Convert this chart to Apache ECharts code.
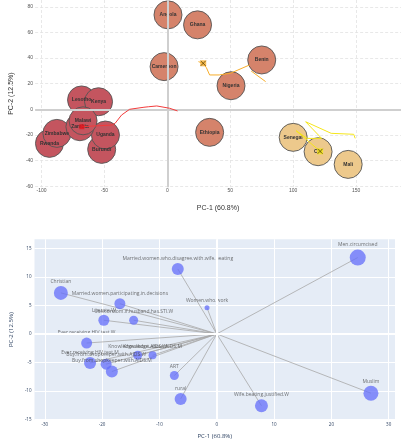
<!DOCTYPE html>
<html><head><meta charset="utf-8">
<script src="https://cdn.jsdelivr.net/npm/echarts@6/dist/echarts.min.js"></script>
<style>html,body{margin:0;padding:0;background:#fff}#c{width:401px;height:440px}</style>
</head><body><div id="c"></div>
<script>
// ---- top panel: country scores ----
const countries = ['Angola','Ghana','Cameroon','Benin','Nigeria','Ethiopia','Lesotho','Kenya','Rwanda','Zimbabwe','Burundi','Uganda','Zambia','Malawi','Senegal','CIV','Mali'];
const countryPC1 = [0.5, 24, -2.6, 75, 50.6, 33.6, -68.2, -54.7, -93.7, -87.8, -52.2, -49.2, -69.5, -67, 100, 119.8, 143.7];
const countryPC2 = [73.7, 65.9, 33.3, 38.5, 18.4, -18, 7.3, 5.9, -26.6, -18.8, -31.3, -20.1, -13.6, -9, -21.9, -33.1, -43];
const countryGroup = [1,1,1,1,1,1,0,0,0,0,0,0,0,0,2,2,2];

const redPC1 = [-68, -58, -44, -41.5, -36.4, -30, -18.6, -14.8, -13.5, -8.4, 1.8, 8.1];
const redPC2 = [-13.6, -13, -12.3, -10.9, -4.5, 0, 1.6, 2, 3.4, 2.6, 0.8, -1.3];
const orangePC1 = [24.7, 28.5, 31, 33.6, 41.2, 50.1, 65.3];
const orangePC2 = [37.2, 35.9, 32.5, 26.8, 26.8, 28.1, 34.6];
const orangeTailPC1 = [66.6, 78.1];
const orangeTailPC2 = [29.9, 21.6];
const yellowPC1 = [121.4, 102.3, 111.1, 122.6, 109.9, 130.2, 148.1, 149.3];
const yellowPC2 = [-32.8, -16.7, -22.7, -22.7, -9.7, -18.75, -19.5, -22.7];

// ---- bottom panel: variable loadings ----
const varNames = ['Men.circumcised','Married.women.who.disagree.with.wife.beating','Christian','Married.women.participating.in.decisions','Women.who.work','Literate.W','Use.condom.if.husband.has.STI.W','Ever.receiving.HIV.test.W','Knowledge.about.AIDS.W','Knowledge.about.AIDS.M','Ever.receiving.HIV.test.M','Buy.from.shopkeeper.with.AIDS.W','Buy.from.shopkeeper.with.AIDS.M','ART','rural','Wife.beating.justified.W','Muslim'];
const varPC1 = [24.6, -6.8, -27.2, -16.9, -1.7, -19.7, -14.5, -22.7, -13.8, -11.2, -22.1, -19.3, -18.3, -7.4, -6.3, 7.8, 26.9];
const varPC2 = [13.4, 11.4, 7.2, 5.3, 4.6, 2.4, 2.4, -1.6, -3.75, -3.75, -5.1, -5.3, -6.6, -7.3, -11.4, -12.6, -10.4];
const varMagnitude = [16, 12, 14, 11, 5, 11, 9, 11, 9, 8, 12, 11, 12, 9, 12, 13, 15];

const groupColors = ['#c4555f', '#d5836b', '#edc98c'];
const zip = (a, b) => a.map((v, i) => [v, b[i]]);

const chart = echarts.init(document.getElementById('c'), null, {renderer: 'canvas'});

const zeroLine = (color, w, xi, yi, z) => ({
  type: 'line', xAxisIndex: xi, yAxisIndex: yi, data: [], z: z, silent: true,
  markLine: {silent: true, symbol: ['none', 'none'], label: {show: false},
    lineStyle: {color: color, width: w, type: 'solid'},
    emphasis: {disabled: true},
    data: [{xAxis: 0}, {yAxis: 0}]}
});

const xMark = {path: 'path://M0,0L10,10M10,0L0,10'};

chart.setOption({
  animation: false,
  textStyle: {fontFamily: 'Liberation Sans, Arial, sans-serif'},
  grid: [
    {left: 20, top: 0, width: 381, height: 187.2},
    {left: 22.7, top: 239.3, width: 372.3, height: 183, show: true, backgroundColor: '#e5ecf6', borderWidth: 0}
  ],
  xAxis: [
    {type: 'value', gridIndex: 0, min: -105.1, max: 185.7, minInterval: 50, maxInterval: 50,
     axisLine: {show: false}, axisTick: {show: false},
     axisLabel: {fontSize: 5, color: '#555', margin: 1, showMinLabel: false, showMaxLabel: false},
     splitLine: {show: true, showMinLine: false, showMaxLine: false, lineStyle: {color: '#e2e2e2', type: [3, 2], width: 0.8}},
     name: 'PC-1 (60.8%)', nameLocation: 'middle', nameGap: 17, nameTextStyle: {fontSize: 7, color: '#333'}},
    {type: 'value', gridIndex: 1, min: -31.8, max: 31.1, minInterval: 10, maxInterval: 10,
     axisLine: {show: false}, axisTick: {show: false},
     axisLabel: {fontSize: 4.5, color: '#2a3f5f', margin: 2, showMinLabel: false, showMaxLabel: false, fontFamily: 'Open Sans'},
     splitLine: {show: true, showMinLine: false, showMaxLine: false, lineStyle: {color: '#ffffff', width: 1}},
     name: 'PC-1 (60.8%)', nameLocation: 'middle', nameGap: 13, nameTextStyle: {fontSize: 6, color: '#2a3f5f', fontFamily: 'Open Sans'}}
  ],
  yAxis: [
    {type: 'value', gridIndex: 0, min: -60.8, max: 85.3, minInterval: 20, maxInterval: 20,
     axisLine: {show: false}, axisTick: {show: false},
     axisLabel: {fontSize: 5, color: '#555', margin: 2, showMinLabel: false, showMaxLabel: false},
     splitLine: {show: true, showMinLine: false, showMaxLine: false, lineStyle: {color: '#e2e2e2', type: [3, 2], width: 0.8}},
     name: 'PC-2 (12.5%)', nameLocation: 'middle', nameGap: 12, nameRotate: 90, nameTextStyle: {fontSize: 7, color: '#333'}},
    {type: 'value', gridIndex: 1, min: -15.1, max: 16.6, minInterval: 5, maxInterval: 5,
     axisLine: {show: false}, axisTick: {show: false},
     axisLabel: {fontSize: 4.5, color: '#2a3f5f', margin: 3, showMinLabel: false, showMaxLabel: false, fontFamily: 'Open Sans'},
     splitLine: {show: true, showMinLine: false, showMaxLine: false, lineStyle: {color: '#ffffff', width: 1}},
     name: 'PC-2 (12.5%)', nameLocation: 'middle', nameGap: 15, nameRotate: 90, nameTextStyle: {fontSize: 6, color: '#2a3f5f', fontFamily: 'Open Sans'}}
  ],
  series: [
    zeroLine('#cfcfcf', 2, 0, 0, 1),
    {type: 'scatter', xAxisIndex: 0, yAxisIndex: 0, z: 3, symbolSize: 28,
     data: countries.map((n, i) => ({name: n, value: [countryPC1[i], countryPC2[i]], itemStyle: {color: groupColors[countryGroup[i]]}})),
     itemStyle: {borderColor: '#555', borderWidth: 0.9, opacity: 1},
     label: {show: true, position: 'inside', formatter: '{b}', fontSize: 5, fontWeight: 'bold', color: '#333'}},
    {type: 'line', xAxisIndex: 0, yAxisIndex: 0, z: 5, data: zip(redPC1, redPC2), showSymbol: false, lineStyle: {color: '#f23b3b', width: 1}},
    {type: 'line', xAxisIndex: 0, yAxisIndex: 0, z: 5, data: zip(orangePC1, orangePC2), showSymbol: false, lineStyle: {color: '#f7ad2a', width: 1}},
    {type: 'line', xAxisIndex: 0, yAxisIndex: 0, z: 5, data: zip(orangeTailPC1, orangeTailPC2), showSymbol: false, lineStyle: {color: '#f7ad2a', width: 1}},
    {type: 'line', xAxisIndex: 0, yAxisIndex: 0, z: 5, data: zip(yellowPC1, yellowPC2), showSymbol: false, lineStyle: {color: '#f5e61a', width: 1}},
    {type: 'scatter', xAxisIndex: 0, yAxisIndex: 0, z: 6, symbol: 'rect',
     data: [
       {value: [redPC1[0], redPC2[0]], symbolSize: 5, itemStyle: {color: '#e8141d'}},
       {value: [orangePC1[1], orangePC2[1]], symbolSize: 6, itemStyle: {color: '#f7ad2a'}},
       {value: [yellowPC1[0], yellowPC2[0]], symbolSize: 6, itemStyle: {color: '#f5e61a'}}
     ]},
    {type: 'scatter', xAxisIndex: 0, yAxisIndex: 0, z: 7, symbol: xMark.path, symbolSize: 5,
     data: [[orangePC1[1], orangePC2[1]], [yellowPC1[0], yellowPC2[0]]],
     itemStyle: {color: 'none', borderColor: '#3a3000', borderWidth: 0.8}},

    zeroLine('#ffffff', 2, 1, 1, 1),
    {type: 'lines', coordinateSystem: 'cartesian2d', xAxisIndex: 1, yAxisIndex: 1, z: 2,
     data: varNames.map((n, i) => ({coords: [[0, 0], [varPC1[i], varPC2[i]]]})),
     lineStyle: {color: '#a8a8a8', width: 0.8, opacity: 1}},
    {type: 'scatter', xAxisIndex: 1, yAxisIndex: 1, z: 3,
     data: varNames.map((n, i) => ({name: n, value: [varPC1[i], varPC2[i]], symbolSize: varMagnitude[i]})),
     itemStyle: {color: '#636efa', opacity: 0.75},
     label: {show: true, position: 'top', distance: 2, formatter: '{b}', fontSize: 5, color: '#444', fontFamily: 'Open Sans'}}
  ]
});
</script></body></html>
